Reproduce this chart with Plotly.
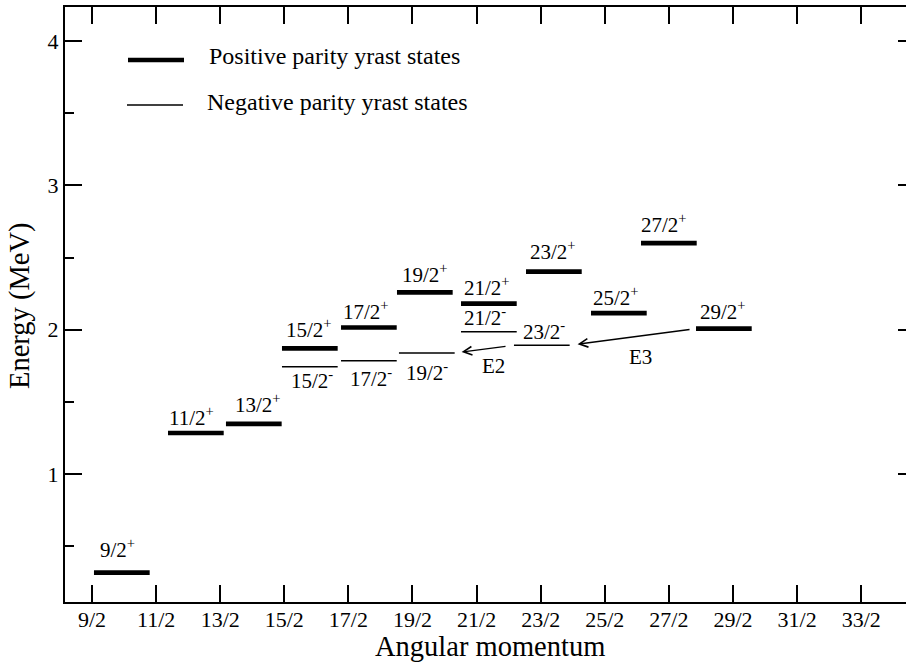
import plotly.graph_objects as go

# ---- level scheme data -------------------------------------------------
# Positive-parity yrast states: spin, excitation energy (MeV), left edge of level bar (spin units)
pos_spin = ["9/2", "11/2", "13/2", "15/2", "17/2", "19/2", "21/2", "23/2", "25/2", "27/2", "29/2"]
pos_energy = [0.317, 1.284, 1.347, 1.870, 2.015, 2.259, 2.180, 2.402, 2.114, 2.599, 2.007]
pos_left = [4.531, 5.686, 6.590, 7.464, 8.385, 9.258, 10.257, 11.271, 12.285, 13.065, 13.923]

# Negative-parity yrast states
neg_spin = ["15/2", "17/2", "19/2", "21/2", "23/2"]
neg_energy = [1.743, 1.785, 1.839, 1.986, 1.892]
neg_left = [7.464, 8.385, 9.289, 10.257, 11.083]

# Marked transitions: (initial state, final state, multipolarity)
transitions = [("23/2-", "19/2-", "E2"), ("29/2+", "23/2-", "E3")]

tick_text = ["9/2", "11/2", "13/2", "15/2", "17/2", "19/2", "21/2",
             "23/2", "25/2", "27/2", "29/2", "31/2", "33/2"]
tick_vals = [int(t.split("/")[0]) / 2 for t in tick_text]

# ---- styling ------------------------------------------------------------
FONT = '"Liberation Serif", "Times New Roman", serif'
W, H = 906, 664
M_L, M_R, M_T, M_B = 65, 0, 7, 62
LEVEL_W = 0.869          # bar length in spin units
X_RANGE = [4.079, 17.199]
Y_RANGE = [0.1132, 4.2356]

# label placement (pixels): x offset from bar start, vertical shift of label box
pos_lab_off = {"9/2": (5, 10), "11/2": (0, 2.5), "13/2": (8, 5.5), "15/2": (3, 5),
               "17/2": (1, 3), "19/2": (4, 4.5), "21/2": (2, 2.2), "23/2": (3, 6.5),
               "25/2": (1, 2.5), "27/2": (-1, 5.5), "29/2": (3, 3.2)}
neg_lab_off = {"15/2": (8, -27.5), "17/2": (8, -31.5), "19/2": (6, -33.5),
               "21/2": (2, 0.5), "23/2": (8, 0.5)}


def px_to_paper(px, py):
    pw = W - M_L - M_R
    ph = H - M_T - M_B
    return (px - M_L) / pw, (H - M_B - py) / ph


def segments(lefts, energies):
    xs, ys = [], []
    for x0, e in zip(lefts, energies):
        xs += [x0, x0 + LEVEL_W, None]
        ys += [e, e, None]
    return xs, ys


fig = go.Figure()

xp, yp = segments(pos_left, pos_energy)
fig.add_trace(go.Scatter(x=xp, y=yp, mode="lines", line=dict(color="black", width=4.7),
                         hoverinfo="skip", showlegend=False))
xn, yn = segments(neg_left, neg_energy)
fig.add_trace(go.Scatter(x=xn, y=yn, mode="lines", line=dict(color="black", width=1.5),
                         hoverinfo="skip", showlegend=False))
# carrier for the right-hand tick axis
fig.add_trace(go.Scatter(x=[None], y=[None], yaxis="y2", showlegend=False, hoverinfo="skip"))

annotations = []
for s, e, x0 in zip(pos_spin, pos_energy, pos_left):
    dx, dy = pos_lab_off[s]
    annotations.append(dict(x=x0, y=e, xref="x", yref="y", text=f"{s}<sup>+</sup>",
                            showarrow=False, xanchor="left", yanchor="bottom",
                            xshift=dx, yshift=dy, borderpad=0,
                            font=dict(family=FONT, size=21, color="black")))
for s, e, x0 in zip(neg_spin, neg_energy, neg_left):
    dx, dy = neg_lab_off[s]
    annotations.append(dict(x=x0, y=e, xref="x", yref="y", text=f"{s}<sup>-</sup>",
                            showarrow=False, xanchor="left", yanchor="bottom",
                            xshift=dx, yshift=dy, borderpad=0,
                            font=dict(family=FONT, size=21, color="black")))

# transition arrows
levels = {}
for s, e, x0 in zip(pos_spin, pos_energy, pos_left):
    levels[s + "+"] = (x0, e)
for s, e, x0 in zip(neg_spin, neg_energy, neg_left):
    levels[s + "-"] = (x0, e)

arrow_style = {"E2": dict(standoff=7, startstandoff=7, lab=(9.5, -17)),
               "E3": dict(standoff=8, startstandoff=5, lab=(7.5, -20))}
for ini, fin, mult in transitions:
    xi, ei = levels[ini]
    xf, ef = levels[fin]
    head_x = xf + LEVEL_W
    st = arrow_style[mult]
    annotations.append(dict(x=head_x, y=ef, ax=xi, ay=ei, xref="x", yref="y",
                            axref="x", ayref="y", text="", showarrow=True,
                            arrowhead=5, arrowsize=1.2, arrowwidth=1.4, arrowcolor="black",
                            standoff=st["standoff"], startstandoff=st["startstandoff"]))
    annotations.append(dict(x=(head_x + xi) / 2, y=(ef + ei) / 2, xref="x", yref="y",
                            text=mult, showarrow=False, xanchor="center", yanchor="middle",
                            xshift=st["lab"][0], yshift=st["lab"][1],
                            font=dict(family=FONT, size=21, color="black")))

# legend drawn by hand
shapes = []
for (x0, x1, py, w) in [(128, 184, 60, 4.7), (127, 183, 105, 1.5)]:
    a, b = px_to_paper(x0, py)
    c, _ = px_to_paper(x1, py)
    shapes.append(dict(type="line", xref="paper", yref="paper", x0=a, x1=c, y0=b, y1=b,
                       line=dict(color="black", width=w)))
for (px, py, txt) in [(208, 70, "Positive parity yrast states"),
                      (206, 116, "Negative parity yrast states")]:
    a, b = px_to_paper(px, py)
    annotations.append(dict(x=a, y=b, xref="paper", yref="paper", text=txt,
                            showarrow=False, xanchor="left", yanchor="bottom", borderpad=0,
                            font=dict(family=FONT, size=24, color="black")))

# axis titles
ax_, _ = px_to_paper(490, 0)
annotations.append(dict(x=ax_, y=0, xref="paper", yref="paper", yshift=-28,
                        text="Angular momentum", showarrow=False, xanchor="center",
                        yanchor="top", borderpad=0,
                        font=dict(family=FONT, size=28.5, color="black")))
tx, ty = px_to_paper(20, 306)
annotations.append(dict(x=tx, y=ty, xref="paper", yref="paper", text="Energy (MeV)",
                        textangle=-90, showarrow=False, xanchor="center", yanchor="middle",
                        font=dict(family=FONT, size=28.5, color="black")))

fig.update_layout(
    width=W, height=H,
    margin=dict(l=M_L, r=M_R, t=M_T, b=M_B),
    paper_bgcolor="white", plot_bgcolor="white",
    showlegend=False,
    font=dict(family=FONT, color="black"),
    xaxis=dict(range=X_RANGE, tickmode="array", tickvals=tick_vals, ticktext=tick_text,
               ticks="inside", ticklen=17, tickwidth=1.5, tickcolor="black",
               ticklabelstandoff=-3,
               showline=True, linewidth=2, linecolor="black", mirror="ticks",
               showgrid=False, zeroline=False, tickfont=dict(family=FONT, size=22)),
    yaxis=dict(range=Y_RANGE, tickmode="array", tickvals=[1, 2, 3, 4],
               ticks="inside", ticklen=17, tickwidth=1.5, tickcolor="black",
               minor=dict(tickmode="array", tickvals=[0.5, 1.5, 2.5, 3.5], ticks="inside",
                          ticklen=9, tickwidth=1.5, tickcolor="black"),
               showline=True, linewidth=2, linecolor="black",
               showgrid=False, zeroline=False, tickfont=dict(family=FONT, size=22)),
    yaxis2=dict(range=Y_RANGE, overlaying="y", side="right", tickmode="array",
                tickvals=[1, 2, 3, 4], ticks="inside", ticklen=8, tickwidth=1.5,
                tickcolor="black", showticklabels=False, showline=False,
                showgrid=False, zeroline=False),
    annotations=annotations,
    shapes=shapes,
)

fig.write_html("out.html")
